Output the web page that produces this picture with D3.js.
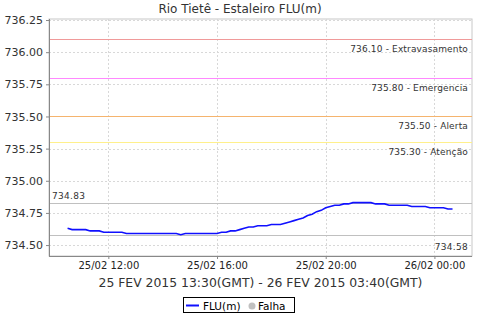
<!DOCTYPE html>
<html><head><meta charset="utf-8">
<script src="https://cdn.jsdelivr.net/npm/d3@7"></script>
<style>
body{margin:0;background:#fff;}
svg{display:block;font-family:"DejaVu Sans",sans-serif;}
</style></head>
<body>
<svg id="c" width="480" height="320"></svg>
<script>
const title = "Rio Tietê - Estaleiro FLU(m)";
const xAxisTitle = "25 FEV 2015 13:30(GMT) - 26 FEV 2015 03:40(GMT)";
const times = [
"2015-02-25T10:30","2015-02-25T10:40","2015-02-25T10:50","2015-02-25T11:00","2015-02-25T11:10","2015-02-25T11:20",
"2015-02-25T11:30","2015-02-25T11:40","2015-02-25T11:50","2015-02-25T12:00","2015-02-25T12:10","2015-02-25T12:20",
"2015-02-25T12:30","2015-02-25T12:40","2015-02-25T12:50","2015-02-25T13:00","2015-02-25T13:10","2015-02-25T13:20",
"2015-02-25T13:30","2015-02-25T13:40","2015-02-25T13:50","2015-02-25T14:00","2015-02-25T14:10","2015-02-25T14:20",
"2015-02-25T14:30","2015-02-25T14:40","2015-02-25T14:50","2015-02-25T15:00","2015-02-25T15:10","2015-02-25T15:20",
"2015-02-25T15:30","2015-02-25T15:40","2015-02-25T15:50","2015-02-25T16:00","2015-02-25T16:10","2015-02-25T16:20",
"2015-02-25T16:30","2015-02-25T16:40","2015-02-25T16:50","2015-02-25T17:00","2015-02-25T17:10","2015-02-25T17:20",
"2015-02-25T17:30","2015-02-25T17:40","2015-02-25T17:50","2015-02-25T18:00","2015-02-25T18:10","2015-02-25T18:20",
"2015-02-25T18:30","2015-02-25T18:40","2015-02-25T18:50","2015-02-25T19:00","2015-02-25T19:10","2015-02-25T19:20",
"2015-02-25T19:30","2015-02-25T19:40","2015-02-25T19:50","2015-02-25T20:00","2015-02-25T20:10","2015-02-25T20:20",
"2015-02-25T20:30","2015-02-25T20:40","2015-02-25T20:50","2015-02-25T21:00","2015-02-25T21:10","2015-02-25T21:20",
"2015-02-25T21:30","2015-02-25T21:40","2015-02-25T21:50","2015-02-25T22:00","2015-02-25T22:10","2015-02-25T22:20",
"2015-02-25T22:30","2015-02-25T22:40","2015-02-25T22:50","2015-02-25T23:00","2015-02-25T23:10","2015-02-25T23:20",
"2015-02-25T23:30","2015-02-25T23:40","2015-02-25T23:50","2015-02-26T00:00","2015-02-26T00:10","2015-02-26T00:20",
"2015-02-26T00:30","2015-02-26T00:40"];
const levels = [
734.63,734.62,734.62,734.62,734.62,734.61,
734.61,734.61,734.60,734.60,734.60,734.60,
734.60,734.59,734.59,734.59,734.59,734.59,
734.59,734.59,734.59,734.59,734.59,734.59,
734.59,734.58,734.59,734.59,734.59,734.59,
734.59,734.59,734.59,734.59,734.60,734.60,
734.61,734.61,734.62,734.63,734.64,734.64,
734.65,734.65,734.65,734.66,734.66,734.66,
734.67,734.68,734.69,734.70,734.71,734.73,
734.74,734.76,734.77,734.79,734.80,734.81,
734.81,734.82,734.82,734.83,734.83,734.83,
734.83,734.83,734.82,734.82,734.82,734.81,
734.81,734.81,734.81,734.81,734.80,734.80,
734.80,734.80,734.79,734.79,734.79,734.79,
734.78,734.78];
const thresholdValues = [736.10, 735.80, 735.50, 735.30];
const thresholdNames = ["Extravasamento", "Emergencia", "Alerta", "Atenção"];
const thresholdColors = ["#f09a9a", "#ff88ff", "#f5b46e", "#fff08c"];
const maxValue = 734.83, minValue = 734.58;
const yTicks = [734.50, 734.75, 735.00, 735.25, 735.50, 735.75, 736.00, 736.25];
const xTickTimes = ["2015-02-25T12:00","2015-02-25T16:00","2015-02-25T20:00","2015-02-26T00:00"];
const xDomain = ["2015-02-25T09:49","2015-02-26T01:23"];
const yDomain = [734.415, 736.258];

const parse = d3.timeParse("%Y-%m-%dT%H:%M");
const data = times.map((t,i)=>({t:parse(t), v:levels[i]}));

const svg = d3.select("#c");
const L=49, R=472, T=19, B=256;
const x = d3.scaleTime().domain(xDomain.map(parse)).range([L,R]);
const y = d3.scaleLinear().domain(yDomain).range([B,T]);

svg.append("text").attr("x",240).attr("y",13).attr("text-anchor","middle")
  .attr("font-size",12).attr("fill","#333").text(title);

svg.append("rect").attr("x",L).attr("y",T).attr("width",R-L).attr("height",B-T)
  .attr("fill","#fff").attr("stroke","#c8c8c8");

svg.append("g").selectAll("line").data(yTicks).join("line")
  .attr("x1",L).attr("x2",R).attr("y1",d=>Math.round(y(d))+0.5).attr("y2",d=>Math.round(y(d))+0.5)
  .attr("stroke","#d8d8d8").attr("stroke-dasharray","2,2");
svg.append("g").selectAll("line").data(xTickTimes.map(parse)).join("line")
  .attr("y1",T).attr("y2",B).attr("x1",d=>Math.round(x(d))+0.5).attr("x2",d=>Math.round(x(d))+0.5)
  .attr("stroke","#d8d8d8").attr("stroke-dasharray","2,2");

const labelFont = 9;
thresholdValues.forEach((v,i)=>{
  const yy = Math.round(y(v))+0.5;
  svg.append("line").attr("x1",L).attr("x2",R).attr("y1",yy).attr("y2",yy)
    .attr("stroke",thresholdColors[i]).attr("stroke-width",1);
  svg.append("text").attr("x",R-4).attr("y",yy+12).attr("text-anchor","end")
    .attr("font-size",labelFont).attr("letter-spacing","0.15").attr("fill","#333")
    .text(d3.format(".2f")(v)+" - "+thresholdNames[i]);
});
[maxValue,minValue].forEach(v=>{
  const yy = Math.round(y(v))+0.5;
  svg.append("line").attr("x1",L).attr("x2",R).attr("y1",yy).attr("y2",yy)
    .attr("stroke","#c0c0c0").attr("stroke-width",1);
});
svg.append("text").attr("x",L+3).attr("y",Math.round(y(maxValue))-4)
  .attr("font-size",labelFont).attr("letter-spacing","0.3").attr("fill","#333").text(d3.format(".2f")(maxValue));
svg.append("text").attr("x",R-4).attr("y",Math.round(y(minValue))+15).attr("text-anchor","end")
  .attr("font-size",labelFont).attr("letter-spacing","0.3").attr("fill","#333").text(d3.format(".2f")(minValue));

svg.append("path").datum(data)
  .attr("d",d3.line().x(d=>x(d.t)).y(d=>y(d.v)))
  .attr("fill","none").attr("stroke","#1010ff").attr("stroke-width",1.6);

const yAxis = svg.append("g").attr("transform",`translate(${L},0)`)
  .call(d3.axisLeft(y).tickValues(yTicks).tickFormat(d3.format(".2f")).tickSize(3).tickPadding(3));
yAxis.select(".domain").attr("stroke","#888").attr("d",`M0.5,${T}V${B}`);
yAxis.selectAll(".tick line").attr("stroke","#888");
yAxis.selectAll("text").attr("font-size",11).attr("fill","#333").attr("font-family","DejaVu Sans");

const xAxis = svg.append("g").attr("transform",`translate(0,${B})`)
  .call(d3.axisBottom(x).tickValues(xTickTimes.map(parse)).tickFormat(d3.timeFormat("%d/%m %H:%M")).tickSize(3).tickPadding(3));
xAxis.select(".domain").attr("stroke","#888").attr("d",`M${L},0.5H${R}`);
xAxis.selectAll(".tick line").attr("stroke","#888");
xAxis.selectAll("text").attr("font-size",10).attr("fill","#222").attr("font-family","DejaVu Sans");

svg.append("text").attr("x",(L+R)/2).attr("y",287).attr("text-anchor","middle")
  .attr("font-size",12.4).attr("fill","#333").text(xAxisTitle);

const lg = svg.append("g");
lg.append("rect").attr("x",183.5).attr("y",297.5).attr("width",111).attr("height",15)
  .attr("fill","#fff").attr("stroke","#000");
lg.append("line").attr("x1",186).attr("x2",199).attr("y1",305.5).attr("y2",305.5)
  .attr("stroke","#1010ff").attr("stroke-width",2);
lg.append("text").attr("x",203).attr("y",310).attr("font-size",10.5).attr("fill","#000").text("FLU(m)");
lg.append("circle").attr("cx",252).attr("cy",306).attr("r",3.5).attr("fill","#c0c0c0");
lg.append("text").attr("x",258).attr("y",310).attr("font-size",10.5).attr("fill","#000").text("Falha");
</script>
</body></html>
